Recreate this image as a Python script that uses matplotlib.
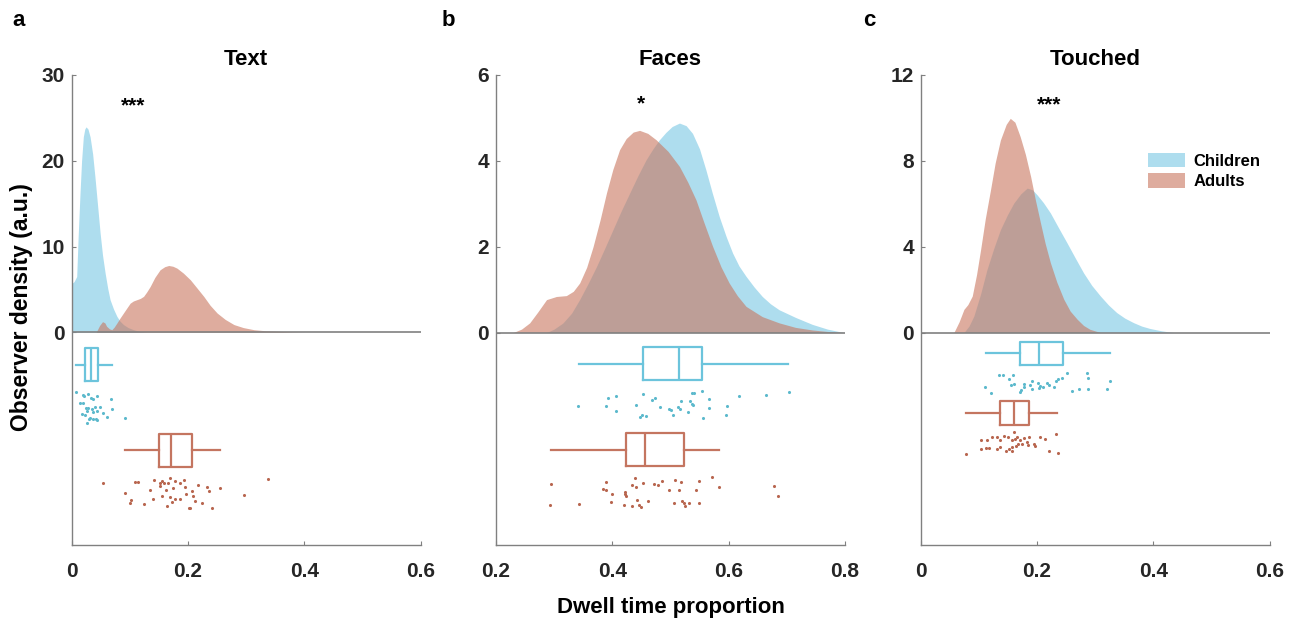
import numpy as np
import matplotlib
matplotlib.use('Agg')
import matplotlib.pyplot as plt
from matplotlib.patches import Patch

plt.rcParams['font.family'] = ['Liberation Sans', 'DejaVu Sans']
plt.rcParams['font.weight'] = 'bold'

blue_fill = '#78c7e4'
red_fill = '#c8755d'
blue_line = '#6cc4dc'
red_line = '#c47560'
blue_dot = '#5cb9cc'
red_dot = '#b8664f'
axis_gray = '#808080'

titles = ['Text', 'Faces', 'Touched']
letters = ['a', 'b', 'c']
stars = ['***', '*', '***']
star_x = [0.106, 0.45, 0.221]
star_y = [25.8, 5.19, 10.33]
ylims = [(-24.8, 30), (-4.95, 6), (-9.9, 12)]
yticks = [[0, 10, 20, 30], [0, 2, 4, 6], [0, 4, 8, 12]]
xlims = [(0, 0.6), (0.2, 0.8), (0, 0.6)]
xticks = [[0, 0.2, 0.4, 0.6], [0.2, 0.4, 0.6, 0.8], [0, 0.2, 0.4, 0.6]]

# density curves
text_child_x = [0.0, 0.0, 0.004, 0.0086, 0.011, 0.0143, 0.017, 0.020, 0.0225, 0.0247, 0.028, 0.0316,
                0.036, 0.040, 0.0445, 0.0489, 0.053, 0.0575, 0.062, 0.066, 0.072, 0.0777, 0.083,
                0.089, 0.097, 0.1063, 0.117, 0.129]
text_child_y = [0.0, 5.7, 5.9, 6.5, 11.0, 16.2, 20.0, 22.8, 23.7, 23.95, 23.7, 22.8,
                20.8, 18.1, 14.8, 11.55, 9.0, 6.9, 5.1, 3.8, 2.7, 1.86, 1.3,
                0.9, 0.55, 0.3, 0.1, 0.0]
text_adult_x = [0.042, 0.048, 0.053, 0.057, 0.060, 0.065, 0.069, 0.073, 0.0777, 0.083, 0.089, 0.095,
                0.1006, 0.106, 0.112, 0.118, 0.1236, 0.129, 0.135, 0.143, 0.152, 0.160, 0.1668, 0.174,
                0.181, 0.192, 0.204, 0.215, 0.227, 0.238, 0.250, 0.264, 0.279, 0.295, 0.3135, 0.333,
                0.354, 0.375, 0.40]
text_adult_y = [0.0, 0.8, 1.24, 1.1, 0.7, 0.4, 0.3, 0.6, 1.08, 1.65, 2.25, 2.85,
                3.4, 3.65, 3.8, 3.95, 4.19, 4.7, 5.35, 6.4, 7.29, 7.65, 7.79, 7.7,
                7.48, 6.9, 6.12, 5.2, 4.19, 3.15, 2.25, 1.5, 0.9, 0.55, 0.3, 0.18,
                0.12, 0.05, 0.0]

faces_child_x = [0.287, 0.300, 0.315, 0.330, 0.344, 0.358, 0.373, 0.387, 0.401, 0.415, 0.430, 0.444,
                 0.458, 0.470, 0.481, 0.492, 0.503, 0.5155, 0.527, 0.538, 0.550, 0.561, 0.572, 0.584,
                 0.596, 0.607, 0.618, 0.630, 0.644, 0.658, 0.672, 0.687, 0.7155, 0.744, 0.770, 0.798]
faces_child_y = [0.0, 0.08, 0.22, 0.45, 0.77, 1.13, 1.54, 1.96, 2.39, 2.82, 3.25, 3.65,
                 4.02, 4.28, 4.49, 4.66, 4.80, 4.88, 4.82, 4.64, 4.28, 3.79, 3.25, 2.70,
                 2.23, 1.85, 1.55, 1.31, 1.06, 0.84, 0.67, 0.53, 0.35, 0.19, 0.08, 0.0]
faces_adult_x = [0.2297, 0.244, 0.258, 0.272, 0.287, 0.304, 0.321, 0.333, 0.344, 0.356, 0.367, 0.379,
                 0.390, 0.401, 0.4126, 0.424, 0.436, 0.447, 0.461, 0.4755, 0.496, 0.5155, 0.530,
                 0.544, 0.558, 0.5725, 0.587, 0.601, 0.615, 0.630, 0.658, 0.687, 0.715, 0.744, 0.770,
                 0.798]
faces_adult_y = [0.0, 0.08, 0.225, 0.48, 0.767, 0.84, 0.86, 0.96, 1.155, 1.52, 2.0, 2.62,
                 3.25, 3.8, 4.26, 4.52, 4.67, 4.71, 4.64, 4.49, 4.22, 3.87, 3.5,
                 3.09, 2.55, 2.01, 1.53, 1.155, 0.86, 0.61, 0.37, 0.225, 0.12, 0.06, 0.025,
                 0.0]

touch_child_x = [0.0743, 0.083, 0.0914, 0.103, 0.114, 0.126, 0.137, 0.149, 0.160, 0.172, 0.183, 0.192,
                 0.200, 0.211, 0.223, 0.237, 0.2515, 0.266, 0.280, 0.294, 0.309, 0.323, 0.337,
                 0.351, 0.366, 0.380, 0.394, 0.414, 0.434]
touch_child_y = [0.0, 0.3, 0.77, 1.8, 2.94, 3.95, 4.79, 5.48, 6.03, 6.46, 6.73, 6.65,
                 6.42, 6.05, 5.57, 4.88, 4.18, 3.46, 2.78, 2.2, 1.70, 1.28, 0.93,
                 0.67, 0.46, 0.30, 0.19, 0.08, 0.0]
touch_adult_x = [0.057, 0.066, 0.0743, 0.081, 0.0886, 0.096, 0.103, 0.111, 0.120, 0.128, 0.137, 0.147,
                 0.154, 0.162, 0.171, 0.180, 0.189, 0.197, 0.206, 0.214, 0.223, 0.234, 0.246,
                 0.257, 0.269, 0.280, 0.291, 0.309]
touch_adult_y = [0.0, 0.5, 1.08, 1.3, 1.70, 2.7, 3.87, 5.3, 6.65, 7.9, 8.97, 9.7,
                 9.98, 9.8, 9.13, 8.3, 7.27, 6.2, 5.10, 4.15, 3.25, 2.35, 1.55,
                 1.0, 0.62, 0.33, 0.15, 0.0]

# box stats: whislo, q1, med, q3, whishi
text_child_box = [0.0074, 0.023, 0.0333, 0.0449, 0.069]
text_adult_box = [0.092, 0.1507, 0.1714, 0.207, 0.2548]
faces_child_box = [0.3423, 0.4526, 0.5143, 0.5537, 0.7028]
faces_adult_box = [0.2955, 0.4229, 0.457, 0.524, 0.584]
touch_child_box = [0.1114, 0.170, 0.2029, 0.244, 0.3257]
touch_adult_box = [0.078, 0.137, 0.16, 0.186, 0.234]
box_pos = [(-3.76, -13.73), (-0.73, -2.73), (-0.97, -3.74)]
box_h = [3.85, 0.77, 1.1]

# individual observers (dwell proportion, vertical jitter)
text_child_pts = [0.0069, 0.0189, 0.0212, 0.0287, 0.0327, 0.0373, 0.0442, 0.0673, 0.0143, 0.0201,
                  0.0287, 0.0345, 0.0402, 0.0489, 0.027, 0.0373, 0.0431, 0.0535, 0.069, 0.0172,
                  0.023, 0.0316, 0.0373, 0.0414, 0.0442, 0.0604, 0.092, 0.0258, 0.0304, 0.0247]
text_child_jit = [-6.93, -7.32, -7.44, -7.24, -7.63, -7.75, -7.44, -7.79, -8.21, -8.29,
                  -8.79, -8.91, -8.68, -8.76, -9.18, -9.30, -9.22, -9.38, -8.91, -9.57,
                  -9.69, -9.96, -10.07, -10.15, -10.23, -9.84, -9.96, -10.62, -10.15, -8.87]
text_adult_pts = [0.0535, 0.1093, 0.1133, 0.1409, 0.1513, 0.1553, 0.1593, 0.1651, 0.1697, 0.1783,
                  0.1858, 0.1939, 0.2169, 0.2318, 0.2548, 0.3383, 0.0909, 0.1352, 0.1524, 0.1628,
                  0.1743, 0.1956, 0.2071, 0.2359, 0.2963, 0.1018, 0.0995, 0.1236, 0.1398, 0.1553,
                  0.1697, 0.1783, 0.1858, 0.1973, 0.2088, 0.2128, 0.2244, 0.1639, 0.1726, 0.2013,
                  0.2042, 0.2416]
text_adult_jit = [-17.52, -17.40, -17.40, -17.21, -17.52, -17.32, -17.59, -17.52, -17.01, -17.32,
                  -17.59, -17.21, -17.79, -17.98, -18.10, -17.13, -18.72, -18.37, -17.90, -18.37,
                  -18.21, -18.02, -18.48, -18.48, -18.99, -19.57, -19.96, -20.03, -19.38, -19.07,
                  -19.26, -19.38, -19.38, -18.87, -19.07, -19.65, -19.96, -20.23, -19.84, -20.54,
                  -20.46, -20.54]
faces_child_pts = [0.3412, 0.3926, 0.4069, 0.3897, 0.4057, 0.4526, 0.4412, 0.468, 0.4743, 0.4829,
                   0.4972, 0.5012, 0.504, 0.4469, 0.4514, 0.4583, 0.5126, 0.5166, 0.5183, 0.5309,
                   0.5337, 0.5372, 0.5395, 0.5412, 0.5537, 0.5566, 0.5669, 0.5669, 0.5977, 0.5955,
                   0.6183, 0.6652, 0.704, 0.5372]
faces_child_jit = [-1.72, -1.53, -1.49, -1.70, -1.82, -1.43, -1.68, -1.58, -1.53, -1.74,
                   -1.77, -1.80, -1.91, -1.97, -1.91, -1.95, -1.74, -1.77, -1.59, -1.86,
                   -1.60, -1.41, -1.68, -1.41, -1.37, -1.98, -1.55, -1.76, -1.70, -1.93,
                   -1.49, -1.46, -1.39, -1.66]
faces_adult_pts = [0.2943, 0.2937, 0.3423, 0.3897, 0.384, 0.3886, 0.4, 0.3983, 0.4212, 0.4229,
                   0.4223, 0.4194, 0.4337, 0.4394, 0.4412, 0.4343, 0.4429, 0.4457, 0.4497, 0.4526,
                   0.4612, 0.4726, 0.4783, 0.4852, 0.4972, 0.508, 0.5154, 0.5069, 0.5183, 0.52,
                   0.5229, 0.5252, 0.5326, 0.544, 0.5486, 0.5486, 0.5709, 0.584, 0.6783, 0.6857]
faces_adult_jit = [-3.53, -4.02, -3.99, -3.48, -3.64, -3.68, -3.76, -3.94, -3.71, -3.81,
                   -3.77, -4.02, -3.55, -3.40, -3.60, -4.05, -3.89, -4.02, -4.06, -3.50,
                   -3.93, -3.52, -3.56, -3.46, -3.67, -3.43, -3.66, -3.98, -3.49, -3.92,
                   -3.97, -4.05, -3.98, -3.67, -3.47, -3.98, -3.37, -3.60, -3.58, -3.80]
touch_child_pts = [0.1343, 0.1417, 0.1514, 0.1589, 0.1103, 0.12, 0.1554, 0.1703, 0.1731, 0.1771,
                   0.1783, 0.1886, 0.1914, 0.2011, 0.2029, 0.2057, 0.2103, 0.2171, 0.22, 0.2286,
                   0.2331, 0.2354, 0.2429, 0.2514, 0.26, 0.2726, 0.2857, 0.2869, 0.2869, 0.32,
                   0.3257, 0.1914, 0.1611]
touch_child_jit = [-1.99, -1.99, -2.17, -1.99, -2.56, -2.82, -2.44, -2.76, -2.68, -2.40,
                   -2.56, -2.44, -2.64, -2.37, -2.59, -2.48, -2.56, -2.33, -2.44, -2.53,
                   -2.25, -2.17, -2.14, -1.89, -2.71, -2.64, -1.89, -2.10, -2.64, -2.64,
                   -2.25, -2.25, -2.40]
touch_adult_pts = [0.0771, 0.1029, 0.1143, 0.1229, 0.1314, 0.1371, 0.1429, 0.1497, 0.1571, 0.16,
                   0.1629, 0.1657, 0.1029, 0.1114, 0.1171, 0.1303, 0.1371, 0.1474, 0.1514, 0.1571,
                   0.1646, 0.1669, 0.1714, 0.1743, 0.1771, 0.1829, 0.1857, 0.1943, 0.1971, 0.2057,
                   0.2143, 0.22, 0.2331, 0.2354, 0.184, 0.1571]
touch_adult_jit = [-5.65, -5.03, -5.03, -4.85, -4.88, -5.03, -4.80, -4.85, -5.03, -4.65,
                   -4.96, -4.88, -5.42, -5.37, -5.37, -5.42, -5.34, -5.50, -5.42, -5.53,
                   -5.31, -5.19, -5.03, -5.19, -4.91, -5.11, -4.85, -5.19, -5.27, -4.85,
                   -4.96, -5.50, -4.73, -5.61, -5.24, -5.34]

panels = [
    (text_child_x, text_child_y, text_adult_x, text_adult_y, text_child_box, text_adult_box,
     text_child_pts, text_child_jit, text_adult_pts, text_adult_jit),
    (faces_child_x, faces_child_y, faces_adult_x, faces_adult_y, faces_child_box, faces_adult_box,
     faces_child_pts, faces_child_jit, faces_adult_pts, faces_adult_jit),
    (touch_child_x, touch_child_y, touch_adult_x, touch_adult_y, touch_child_box, touch_adult_box,
     touch_child_pts, touch_child_jit, touch_adult_pts, touch_adult_jit),
]

fig = plt.figure(figsize=(12.99, 6.25), dpi=100)
lefts = [0.0552, 0.3818, 0.7088]

for i, p in enumerate(panels):
    cx, cy, ax_, ay, cbox, abox, cpts, cjit, apts, ajit = p
    ax = fig.add_axes([lefts[i], 0.128, 0.2686, 0.752])

    ax.fill_between(cx, cy, 0, color=blue_fill, alpha=0.6, lw=0, zorder=2)
    ax.fill_between(ax_, ay, 0, color=red_fill, alpha=0.6, lw=0, zorder=3)
    ax.axhline(0, color=axis_gray, lw=1.2, zorder=4)

    stats = []
    for b in (cbox, abox):
        stats.append(dict(whislo=b[0], q1=b[1], med=b[2], q3=b[3], whishi=b[4], fliers=[]))
    for s, pos, col in zip(stats, box_pos[i], (blue_line, red_line)):
        ax.bxp([s], positions=[pos], widths=box_h[i], vert=False, showcaps=False,
               showfliers=False, manage_ticks=False,
               boxprops=dict(color=col, lw=1.6), whiskerprops=dict(color=col, lw=1.6),
               medianprops=dict(color=col, lw=1.6))

    ax.scatter(cpts, cjit, s=5, color=blue_dot, lw=0, zorder=5)
    ax.scatter(apts, ajit, s=5, color=red_dot, lw=0, zorder=5)

    ax.set_xlim(xlims[i])
    ax.set_ylim(ylims[i])
    ax.set_xticks(xticks[i])
    ax.set_xticklabels([f'{v:g}' for v in xticks[i]])
    ax.set_yticks(yticks[i])
    for sp in ('top', 'right'):
        ax.spines[sp].set_visible(False)
    for sp in ('left', 'bottom'):
        ax.spines[sp].set_color(axis_gray)
        ax.spines[sp].set_linewidth(1.0)
    ax.tick_params(axis='both', direction='in', length=3, color=axis_gray,
                   labelsize=15, labelcolor='#262626')
    ax.tick_params(axis='x', pad=12)
    ax.tick_params(axis='y', pad=5)
    for lab in ax.get_xticklabels() + ax.get_yticklabels():
        lab.set_fontweight('bold')

    ax.set_title(titles[i], fontsize=16, fontweight='bold', pad=7)
    ax.text(star_x[i], star_y[i], stars[i], fontsize=15, fontweight='bold',
            ha='center', va='baseline')

    if i == 2:
        handles = [Patch(facecolor=blue_fill, alpha=0.6, lw=0), Patch(facecolor=red_fill, alpha=0.6, lw=0)]
        ax.legend(handles, ['Children', 'Adults'], loc='upper left', bbox_to_anchor=(0.652, 0.835),
                  frameon=False, handlelength=2.2, handleheight=1.0,
                  handletextpad=0.5, labelspacing=0.25, borderpad=0, borderaxespad=0,
                  prop=dict(weight='bold', size=12))

for lx, l in zip([19, 448, 869], letters):
    fig.text(lx / 1299, 1 - 21 / 625, l, fontsize=16, fontweight='bold', ha='center', va='center')

fig.text(22 / 1299, 1 - 307 / 625, 'Observer density (a.u.)', fontsize=16.5, fontweight='bold',
         rotation=90, ha='center', va='center')
fig.text(671 / 1299, 1 - 608 / 625, 'Dwell time proportion', fontsize=16, fontweight='bold',
         ha='center', va='center')

fig.savefig('out.png', dpi=100)
